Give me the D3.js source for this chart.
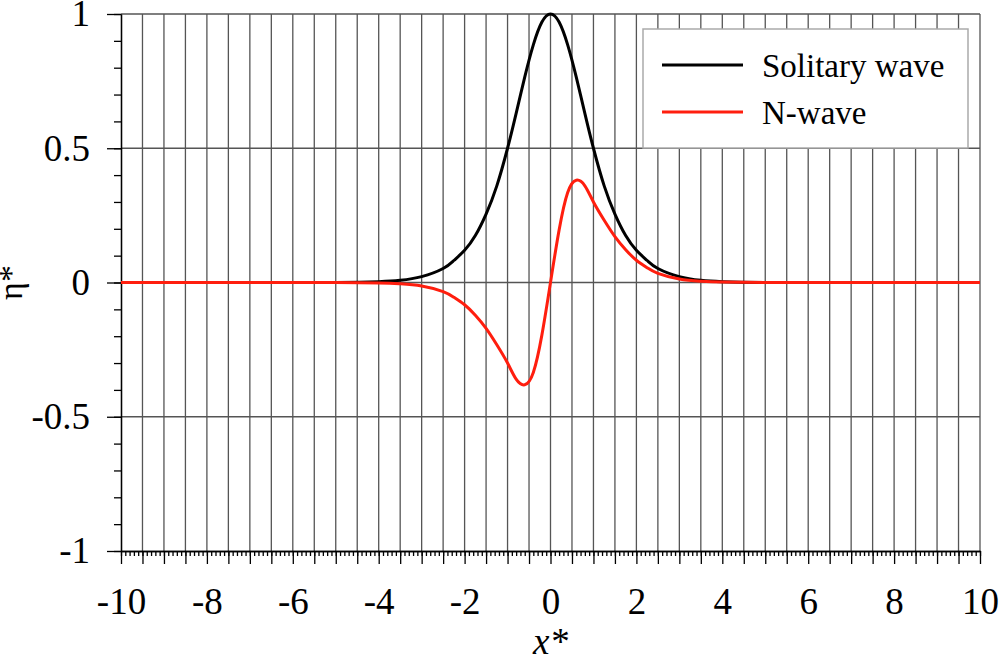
<!DOCTYPE html>
<html>
<head>
<meta charset="utf-8">
<script src="https://cdn.jsdelivr.net/npm/d3@7"></script>
<style>
  body { margin: 0; background: #fff; }
  svg { display: block; }
</style>
</head>
<body>
<svg id="chart"></svg>
<script>
// values
var xs = [-10, -6, -5, -4, -3.5, -3, -2.5, -2.25, -2, -1.75, -1.5, -1.25, -1, -0.8, -0.6, -0.4, -0.2,
          0, 0.2, 0.4, 0.6, 0.8, 1, 1.25, 1.5, 1.75, 2, 2.25, 2.5, 3, 3.5, 4, 5, 6, 10];
var solitary = [0, 0, 0, 0.003, 0.008, 0.022, 0.052, 0.082, 0.12, 0.175, 0.255, 0.36, 0.50, 0.63, 0.765, 0.885, 0.97,
                1, 0.97, 0.885, 0.765, 0.63, 0.50, 0.36, 0.255, 0.175, 0.12, 0.082, 0.052, 0.022, 0.008, 0.003, 0, 0, 0];
var nwave = [0, 0, 0, -0.002, -0.005, -0.013, -0.034, -0.055, -0.083, -0.122, -0.171, -0.232, -0.300, -0.360, -0.381, -0.335, -0.195,
             0, 0.195, 0.335, 0.381, 0.360, 0.300, 0.232, 0.171, 0.122, 0.083, 0.055, 0.034, 0.013, 0.005, 0.002, 0, 0, 0];
var xTicks = [-10, -8, -6, -4, -2, 0, 2, 4, 6, 8, 10];
var yTicks = [-1, -0.5, 0, 0.5, 1];
var seriesNames = ["Solitary wave", "N-wave"];
var seriesColors = ["#000000", "#ff1e0e"];

var width = 1000, height = 659;
var mLeft = 121, mRight = 980, mTop = 14, mBottom = 551;

var svg = d3.select("#chart").attr("width", width).attr("height", height);

var x = d3.scaleLinear().domain([-10, 10]).range([mLeft, mRight]);
var y = d3.scaleLinear().domain([-1, 1]).range([mBottom, mTop]);

var font = "'Liberation Serif', 'Times New Roman', serif";
var fmt = function(d){ return String(d); };  // plain hyphen minus like the reference

// grid
var gx = d3.range(-19, 21).map(function(i){ return i * 0.5; });
svg.append("g").selectAll("line").data(gx).enter().append("line")
    .attr("x1", function(d){ return x(d); }).attr("x2", function(d){ return x(d); })
    .attr("y1", mTop).attr("y2", mBottom)
    .attr("stroke", "#555").attr("stroke-width", 1.3);
svg.append("g").selectAll("line").data([-0.5, 0, 0.5, 1]).enter().append("line")
    .attr("y1", function(d){ return y(d); }).attr("y2", function(d){ return y(d); })
    .attr("x1", mLeft).attr("x2", mRight)
    .attr("stroke", "#555").attr("stroke-width", 1.3);

// x axis
var xAxisMinor = d3.axisBottom(x).tickValues(d3.range(-100, 101).map(function(i){ return i / 10; })).tickSizeInner(5).tickSizeOuter(0).tickFormat("");
var xAxisMajor = d3.axisBottom(x).tickValues(gx.concat([-10])).tickSizeInner(13).tickSizeOuter(0).tickFormat("");
svg.append("g").attr("transform", "translate(0," + mBottom + ")").call(xAxisMinor);
svg.append("g").attr("transform", "translate(0," + mBottom + ")").call(xAxisMajor);
svg.append("g").attr("transform", "translate(0," + mBottom + ")")
    .call(d3.axisBottom(x).tickValues(xTicks).tickSize(0).tickPadding(37).tickFormat(fmt))
    .call(function(g){ g.select(".domain").remove(); });

// y axis
var yAxisMinor = d3.axisLeft(y).tickValues(d3.range(-10, 11).map(function(i){ return i / 10; })).tickSizeInner(7).tickSizeOuter(0).tickFormat("");
svg.append("g").attr("transform", "translate(" + mLeft + ",0)").call(yAxisMinor);
svg.append("g").attr("transform", "translate(" + mLeft + ",0)")
    .call(d3.axisLeft(y).tickValues(yTicks).tickSizeInner(14).tickSizeOuter(0).tickPadding(17).tickFormat(fmt));

svg.selectAll(".tick line, .domain").attr("stroke", "#000").attr("stroke-width", 1.3);
svg.selectAll(".tick text").attr("font-family", font).attr("font-size", 37).attr("fill", "#000");

// curves
var line = d3.line()
    .x(function(d){ return x(d[0]); })
    .y(function(d){ return y(d[1]); })
    .curve(d3.curveNatural);

[solitary, nwave].forEach(function(vals, k){
  svg.append("path")
      .datum(xs.map(function(v, i){ return [v, vals[i]]; }))
      .attr("fill", "none")
      .attr("stroke", seriesColors[k])
      .attr("stroke-width", 3)
      .attr("stroke-linejoin", "round")
      .attr("d", line);
});

// legend
var lg = svg.append("g");
lg.append("rect").attr("x", 643).attr("y", 29).attr("width", 325).attr("height", 119)
    .attr("fill", "#fff").attr("stroke", "#aaa").attr("stroke-width", 1.5);
seriesNames.forEach(function(name, k){
  var ly = 65 + k * 47;
  lg.append("line").attr("x1", 662).attr("x2", 743).attr("y1", ly).attr("y2", ly)
      .attr("stroke", seriesColors[k]).attr("stroke-width", 3);
  lg.append("text").attr("x", 762).attr("y", ly + 12).text(name)
      .attr("font-family", font).attr("font-size", 33).attr("fill", "#000");
});

// axis titles
svg.append("text").attr("x", x(0)).attr("y", 654).attr("text-anchor", "middle")
    .attr("font-family", font).attr("font-size", 37).attr("font-style", "italic").text("x*");
svg.append("text").attr("transform", "translate(22," + y(0) + ") rotate(-90)").attr("text-anchor", "middle")
    .attr("font-family", font).attr("font-size", 34).text("η*");
</script>
</body>
</html>
